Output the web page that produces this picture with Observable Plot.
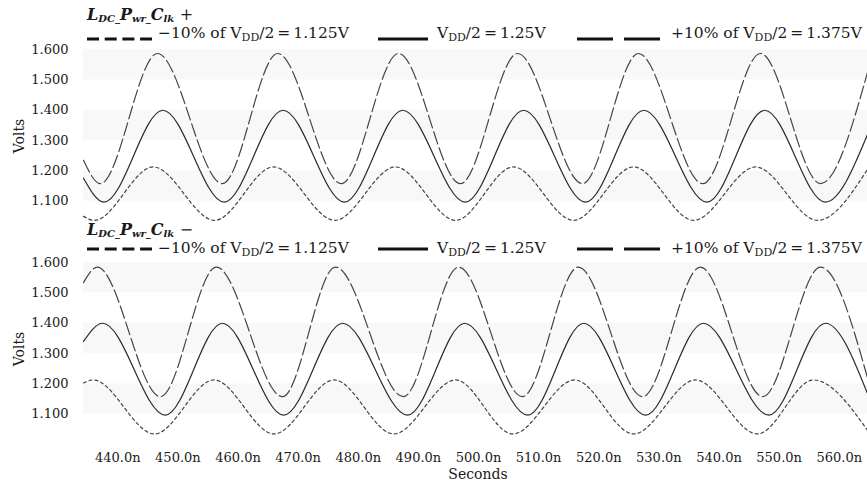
<!DOCTYPE html>
<html><head><meta charset="utf-8">
<script src="https://cdn.jsdelivr.net/npm/d3@7"></script>
<script src="https://cdn.jsdelivr.net/npm/@observablehq/plot@0.6"></script>
<style>
body{margin:0;background:#fff;}
#wrap{position:relative;width:867px;height:480px;overflow:hidden;font-family:"DejaVu Serif",serif;color:#1a1a1a;}
.abs{position:absolute;white-space:nowrap;line-height:1;}
.title{font-size:16px;font-weight:bold;font-style:italic;}
.title sub{font-size:10px;vertical-align:-2px;line-height:0;}
.leg{font-size:15.5px;}
.leg sub{font-size:11px;vertical-align:-3px;line-height:0;}
.eq{margin:0 3px;}
svg.samp{position:absolute;overflow:visible;}
</style></head>
<body><div id="wrap"></div>
<script>
// ---- data ----
const xDomain = [434.3, 564.7];            // ns
const xTicks = [440, 450, 460, 470, 480, 490, 500, 510, 520, 530, 540, 550, 560];
const yTicks = [1.1, 1.2, 1.3, 1.4, 1.5, 1.6];
const bandLo = [1.5, 1.3, 1.1];
const bandHi = [1.6, 1.4, 1.2];
const panelTitles = ["+", "\u2212"];
const legendLabels = ["\u221210% of V<sub>DD</sub>/2<span class='eq'>=</span>1.125V",
                      "V<sub>DD</sub>/2<span class='eq'>=</span>1.25V",
                      "+10% of V<sub>DD</sub>/2<span class='eq'>=</span>1.375V"];

// clk+ panel : [time ns, volts]
const clkPlus1125 = [[434.3,1.050],[436.1,1.037],[445.9,1.213],[456.1,1.037],[465.9,1.213],[476.1,1.037],[486.2,1.213],[496.2,1.037],[505.8,1.213],[515.8,1.037],[525.8,1.213],[535.8,1.037],[546.1,1.213],[556.4,1.037],[564.7,1.205]];
const clkPlus125  = [[434.3,1.176],[437.7,1.097],[447.5,1.400],[457.7,1.097],[467.5,1.400],[477.7,1.097],[487.4,1.400],[497.8,1.097],[507.5,1.400],[517.8,1.097],[527.5,1.400],[538.0,1.097],[547.6,1.400],[557.7,1.097],[564.7,1.320]];
const clkPlus1375 = [[434.3,1.235],[437.1,1.158],[446.6,1.587],[457.4,1.158],[466.6,1.587],[477.2,1.158],[486.7,1.587],[497.0,1.158],[506.5,1.587],[517.3,1.158],[526.6,1.587],[537.3,1.158],[546.9,1.587],[556.9,1.158],[564.7,1.525]];
// clk- panel
const clkMinus1125 = [[434.3,1.203],[435.9,1.213],[446.1,1.035],[456.0,1.213],[466.0,1.035],[476.0,1.213],[485.9,1.035],[496.2,1.213],[505.7,1.035],[516.0,1.213],[525.8,1.035],[536.1,1.213],[546.4,1.035],[555.7,1.213],[564.7,1.047]];
const clkMinus125  = [[434.3,1.340],[437.5,1.400],[447.9,1.097],[457.4,1.400],[467.6,1.097],[477.4,1.400],[488.2,1.097],[497.7,1.400],[508.2,1.097],[517.5,1.400],[527.8,1.097],[537.4,1.400],[548.3,1.097],[557.7,1.400],[564.7,1.168]];
const clkMinus1375 = [[434.3,1.534],[436.6,1.585],[447.1,1.158],[456.4,1.585],[467.4,1.158],[476.2,1.585],[487.5,1.158],[496.7,1.585],[507.3,1.158],[516.6,1.585],[527.3,1.158],[536.9,1.585],[547.3,1.158],[556.9,1.585],[564.7,1.220]];

// ---- styles ----
const lineDash = ["3,3", null, "13,4"];
const sampleDash = ["12,5.7", null, "36,11"];
const bands = bandLo.map((lo, i) => ({lo, hi: bandHi[i]}));

const wrap = document.getElementById("wrap");

function panel(series, showX, height, marginBottom) {
  return Plot.plot({
    width: 867, height, marginLeft: 83, marginRight: 0, marginTop: 3, marginBottom,
    x: {domain: xDomain, ticks: xTicks, tickFormat: d => d.toFixed(1) + "n", tickSize: 0, tickPadding: 14, label: null, axis: showX ? "bottom" : null},
    y: {domain: [1.02, 1.62], ticks: yTicks, tickFormat: d => d.toFixed(3), tickSize: 0, tickPadding: 15, label: null},
    style: {fontFamily: "'DejaVu Serif', serif", fontSize: "13px", color: "#1a1a1a", background: "transparent", overflow: "visible"},
    marks: [
      Plot.rect(bands, {y1: "lo", y2: "hi", fill: "#f8f8f8"}),
      ...series.map((s, i) => Plot.line(s, {x: d => d[0], y: d => d[1], curve: "monotone-x", stroke: i === 1 ? "#2a2a2a" : "#444", strokeWidth: 1.2, strokeDasharray: lineDash[i]}))
    ]
  });
}

function addAbs(html, cls, left, top, extra) {
  const d = document.createElement("div");
  d.className = "abs " + cls;
  d.innerHTML = html;
  d.style.left = left + "px";
  d.style.top = top + "px";
  if (extra) Object.assign(d.style, extra);
  wrap.appendChild(d);
  return d;
}

function addSample(x1, x2, y, dash) {
  const ns = "http://www.w3.org/2000/svg";
  const s = document.createElementNS(ns, "svg");
  s.setAttribute("class", "samp");
  s.setAttribute("width", x2 - x1);
  s.setAttribute("height", 4);
  s.style.left = x1 + "px";
  s.style.top = (y - 2) + "px";
  const l = document.createElementNS(ns, "line");
  l.setAttribute("x1", 0); l.setAttribute("x2", x2 - x1);
  l.setAttribute("y1", 2); l.setAttribute("y2", 2);
  l.setAttribute("stroke", "#111"); l.setAttribute("stroke-width", 3);
  if (dash) l.setAttribute("stroke-dasharray", dash);
  s.appendChild(l);
  wrap.appendChild(s);
}

function header(titleTop, legTop, sampleY, pm) {
  addAbs("L<sub>DC_</sub>P<sub>wr_</sub>C<sub>lk</sub> <span style='font-weight:normal;font-style:normal'>" + pm + "</span>", "title", 87, titleTop);
  const sx = [[87, 152], [378, 428], [577, 660]];
  const tx = [158, 437, 671];
  legendLabels.forEach((lab, i) => {
    addSample(sx[i][0], sx[i][1], sampleY, sampleDash[i]);
    addAbs(lab, "leg", tx[i], legTop);
  });
}

// top panel
header(7, 26, 38.5, panelTitles[0]);
const p1 = panel([clkPlus1125, clkPlus125, clkPlus1375], false, 190, 5);
p1.style.position = "absolute"; p1.style.left = "0px"; p1.style.top = "40px";
wrap.appendChild(p1);

// bottom panel
header(222, 241, 249, panelTitles[1]);
const p2 = panel([clkMinus1125, clkMinus125, clkMinus1375], true, 227, 42);
p2.style.position = "absolute"; p2.style.left = "0px"; p2.style.top = "253px";
wrap.appendChild(p2);

// axis titles
addAbs("Volts", "", 19, 136, {fontSize: "14px", transform: "translate(-50%,-50%) rotate(-90deg)"});
addAbs("Volts", "", 19, 349, {fontSize: "14px", transform: "translate(-50%,-50%) rotate(-90deg)"});
addAbs("Seconds", "", 478, 467, {fontSize: "14px", transform: "translateX(-50%)"});
</script>
</body></html>
